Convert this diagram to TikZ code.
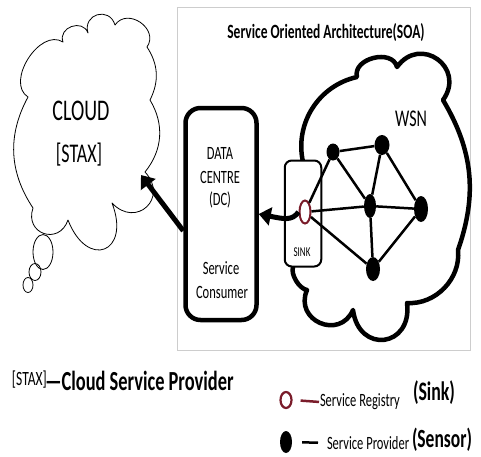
\documentclass[tikz,border=0pt]{standalone}
\usepackage{fontspec}
\setmainfont{Carlito}
\usetikzlibrary{arrows.meta,shapes.geometric}
\definecolor{sinkred}{RGB}{122,28,42}
\definecolor{framegray}{RGB}{205,205,205}
\newcommand{\tallt}[1]{\scalebox{1}[1.5]{#1}}
\newcommand{\fsz}[1]{\fontsize{#1}{#1}\selectfont}
\begin{document}
\begin{tikzpicture}[x=1pt,y=-1pt,
  lbl/.style={inner sep=0pt, outer sep=0pt},
  cloudline/.style={line width=0.8pt, line join=round},
  wsnline/.style={line width=4.5pt, line join=round, line cap=round},
  bubble/.style={draw, ellipse, line width=0.8pt, inner sep=0pt},
  sensor/.style={ellipse, fill=black, inner sep=0pt},
  link/.style={line width=2.5pt},
  bigarrow/.style={line width=5pt, -{Triangle[length=12pt,width=18pt]}}]
\useasboundingbox (0,0) rectangle (481,456);
\fill[white] (0,0) rectangle (481,456);

% SOA frame
\node[draw=framegray, line width=1pt, minimum width=293pt, minimum height=343pt, inner sep=0pt] (soa) at (323.5,178.5) {};
\node[lbl, font=\bfseries\fsz{13.5}] (title) at (326,33) {\tallt{Service Oriented Architecture(SOA)}};

% left cloud
\draw[cloudline] (150,100) to[bend left=35] (145,172)
  to[bend left=90, looseness=2] (112,203)
  to[bend left=90, looseness=2.9] (68,220)
  to[bend left=90, looseness=1.9] (33,208)
  to[bend left=31] (28,97)
  to[bend left=90, looseness=1.07] (63,42)
  to[bend left=90, looseness=1.5] (88,33)
  to[bend left=90, looseness=1.8] (115,25)
  to[bend left=90, looseness=1.45] (147,47)
  to[bend left=30] (150,100);
\node[bubble, minimum width=20pt, minimum height=35pt] (bub1) at (43,252) {};
\node[bubble, minimum width=12pt, minimum height=17pt] (bub2) at (35,272) {};
\node[bubble, minimum width=10pt, minimum height=15pt] (bub3) at (28,285) {};
\node[lbl, font=\fsz{20}] (cloudt) at (81,111) {\tallt{CLOUD}};
\node[lbl, font=\fsz{18}] (staxt) at (79,155) {\tallt{[STAX]}};
\coordinate (cloudtip) at (141,175);

% data centre
\node[draw, line width=4.5pt, rounded corners=15pt, minimum width=71pt, minimum height=212pt, inner sep=0pt] (dc) at (221,214) {};
\node[lbl, font=\fsz{12.5}] (dc1) at (220,153) {\tallt{DATA}};
\node[lbl, font=\fsz{12.5}] (dc2) at (220,177) {\tallt{CENTRE}};
\node[lbl, font=\fsz{12.5}] (dc3) at (220,200) {\tallt{(DC)}};
\node[lbl, font=\fsz{12.5}] (dc4) at (221,268) {\tallt{Service}};
\node[lbl, font=\fsz{12.5}] (dc5) at (222,292) {\tallt{Consumer}};

\draw[bigarrow] (dc.204) -- (cloudtip);

% WSN cloud
\draw[wsnline] (293,267) -- (303,162)
  to[bend left=45] (357,77)
  to[bend left=90, looseness=1.2] (397,67)
  to[bend left=90, looseness=1.8] (443,100)
  to[bend left=25] (458,250)
  to[bend left=50] (407,303)
  to[bend left=90, looseness=2.1] (353,310)
  to[bend left=90, looseness=1.7] (307,290)
  to[bend left=50, looseness=0.75] (293,267);
\node[lbl, font=\fsz{16}] (wsn) at (411,119) {\tallt{WSN}};

% sink box
\node[draw, fill=white, line width=2pt, rounded corners=7pt, minimum width=36.5pt, minimum height=106pt, inner sep=0pt] (sinkbox) at (303,213.5) {};
\node[lbl, font=\fsz{9}] (sinkt) at (302,252) {\tallt{SINK}};

% network nodes
\node[draw=sinkred, fill=white, line width=2pt, ellipse, minimum width=11pt, minimum height=23pt, inner sep=0pt] (S) at (305,212) {};
\node[sensor, minimum width=13pt, minimum height=17pt] (A) at (333,152) {};
\node[sensor, minimum width=15pt, minimum height=20pt] (B) at (382,145) {};
\node[sensor, minimum width=12pt, minimum height=24pt] (C) at (370,206) {};
\node[sensor, minimum width=14pt, minimum height=26pt] (D) at (421,209) {};
\node[sensor, minimum width=14pt, minimum height=24pt] (E) at (373,269) {};
\draw[link] (S) -- (A);
\draw[link] (A) -- (B);
\draw[link] (A) -- (C);
\draw[link] (B) -- (C);
\draw[link] (B) -- (D);
\draw[link] (S) -- (C);
\draw[link] (C) -- (D);
\draw[link] (C) -- (E);
\draw[link] (S) -- (E);
\draw[link] (D) -- (E);

\draw[bigarrow] (S.west) .. controls (292,221) and (284,219) .. (dc.east);

% legend
\node[lbl, anchor=west, font=\fsz{13.5}] (legstax) at (12,380) {\tallt{[STAX]}};
\node[lbl, anchor=west, font=\bfseries\fsz{18.4}] (legcsp) at (45,381) {\tallt{—Cloud Service Provider}};

\node[draw=sinkred, line width=2.2pt, ellipse, minimum width=11pt, minimum height=16pt, inner sep=0pt] (legreg) at (286,400) {};
\node[lbl, anchor=west, font=\fsz{12.5}] (legregt) at (320,402) {\tallt{Service Registry}};
\node[lbl, anchor=west, font=\bfseries\fsz{17.8}] (legsink) at (413,393) {\tallt{(Sink)}};
\draw[sinkred, line width=2.5pt, shorten <=8pt, shorten >=1pt] (legreg.east) -- (legregt.west);

\node[sensor, minimum width=12pt, minimum height=22pt] (legsen) at (286,442) {};
\node[lbl, anchor=west, font=\fsz{12.5}] (legprovt) at (327,443) {\tallt{Service Provider}};
\node[lbl, anchor=west, font=\bfseries\fsz{17.5}] (legsensor) at (412,440) {\tallt{(Sensor)}};
\draw[line width=2.5pt, shorten <=10pt, shorten >=9pt] (legsen.east) -- (legprovt.west);
\end{tikzpicture}
\end{document}
